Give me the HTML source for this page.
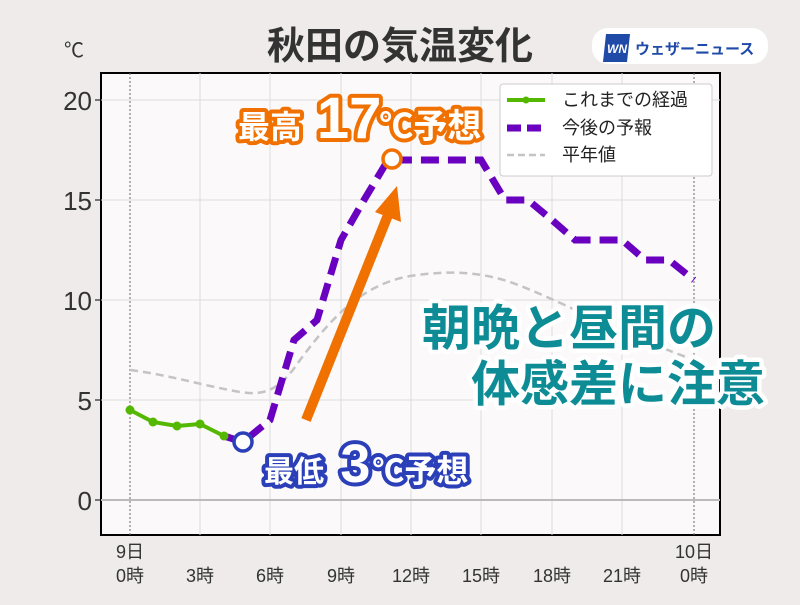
<!DOCTYPE html><html><head><meta charset="utf-8"><style>body{margin:0;width:800px;height:600px;background:#eeebea;overflow:hidden;font-family:"Liberation Sans","Noto Sans CJK JP",sans-serif}</style></head><body>
<svg width="800" height="600" xmlns="http://www.w3.org/2000/svg" font-family="Liberation Sans, Noto Sans CJK JP, sans-serif">
<rect width="800" height="600" fill="#eeebea"/>
<text x="400" y="59" text-anchor="middle" font-size="38" font-weight="bold" fill="#333">秋田の気温変化</text>
<text x="64" y="57" font-size="20" fill="#333">℃</text>
<rect x="592" y="28" width="176" height="36" rx="16" fill="#fff"/>
<polygon points="606,34 630,34 627,62 603,62" fill="#1f4aa8"/>
<text x="607" y="53" font-size="12" font-weight="bold" fill="#fff" font-style="italic">WN</text>
<text x="635" y="54" font-size="15" font-weight="bold" fill="#1f4aa8">ウェザーニュース</text>
<rect x="101" y="73" width="619" height="462" fill="#fbf9fa" stroke="#000" stroke-width="2"/>
<g stroke="#ddd" stroke-width="1">
<line x1="200" y1="73" x2="200" y2="535"/><line x1="270" y1="73" x2="270" y2="535"/><line x1="341" y1="73" x2="341" y2="535"/><line x1="411" y1="73" x2="411" y2="535"/><line x1="481" y1="73" x2="481" y2="535"/><line x1="552" y1="73" x2="552" y2="535"/><line x1="622" y1="73" x2="622" y2="535"/>
<line x1="101" y1="100" x2="720" y2="100"/><line x1="101" y1="200" x2="720" y2="200"/><line x1="101" y1="300" x2="720" y2="300"/><line x1="101" y1="400" x2="720" y2="400"/>
</g>
<line x1="101" y1="500" x2="720" y2="500" stroke="#bbb" stroke-width="2"/>
<line x1="130" y1="73" x2="130" y2="535" stroke="#666" stroke-dasharray="2,2"/>
<line x1="694" y1="73" x2="694" y2="535" stroke="#666" stroke-dasharray="2,2"/>
<g font-size="26" fill="#333" text-anchor="end"><text x="92" y="110">20</text><text x="92" y="210">15</text><text x="92" y="310">10</text><text x="92" y="410">5</text><text x="92" y="510">0</text></g>
<g stroke="#000"><line x1="95" y1="100" x2="101" y2="100"/><line x1="95" y1="200" x2="101" y2="200"/><line x1="95" y1="300" x2="101" y2="300"/><line x1="95" y1="400" x2="101" y2="400"/><line x1="95" y1="500" x2="101" y2="500"/></g>
<g font-size="18" fill="#333" text-anchor="middle">
<text x="130" y="558">9日</text><text x="130" y="582">0時</text><text x="200" y="582">3時</text><text x="270" y="582">6時</text><text x="341" y="582">9時</text><text x="411" y="582">12時</text><text x="481" y="582">15時</text><text x="552" y="582">18時</text><text x="622" y="582">21時</text><text x="694" y="558">10日</text><text x="694" y="582">0時</text></g>
<path d="M130,370 C170,375 200,385 240,392 C265,396 280,390 300,360 C330,320 360,285 410,276 C450,270 480,272 510,282 C560,300 600,325 694,360" fill="none" stroke="#c4c4c4" stroke-width="2.5" stroke-dasharray="8,5"/>
<polyline points="224,436 243,442 270,420 294,340 317,320 341,240 364,200 388,160 481,160 505,200 528,200 552,220 575,240 622,240 645,260 669,260 694,280" fill="none" stroke="#6a00c0" stroke-width="7" stroke-dasharray="18,9"/>
<polyline points="130,410 153,422 177,426 200,424 224,436" fill="none" stroke="#55b800" stroke-width="4"/>
<g fill="#55b800"><circle cx="130" cy="410" r="4.5"/><circle cx="153" cy="422" r="4.5"/><circle cx="177" cy="426" r="4.5"/><circle cx="200" cy="424" r="4.5"/><circle cx="224" cy="436" r="4.5"/></g>
<circle cx="243" cy="442" r="9" fill="#fff" stroke="#2a3fb8" stroke-width="3.5"/>
<circle cx="392" cy="159" r="9" fill="#fff" stroke="#f07000" stroke-width="3.5"/>
<line x1="306" y1="420" x2="388" y2="215" stroke="#f07000" stroke-width="10"/>
<polygon points="397,186 375,212 401,222" fill="#f07000"/>
<rect x="500" y="84" width="212" height="92" rx="3" fill="#fff" stroke="#ccc"/>
<line x1="507" y1="100" x2="545" y2="100" stroke="#55b800" stroke-width="4"/><circle cx="526" cy="100" r="3.5" fill="#55b800"/>
<line x1="507" y1="128" x2="545" y2="128" stroke="#6a00c0" stroke-width="7" stroke-dasharray="14,6"/>
<line x1="507" y1="155" x2="545" y2="155" stroke="#c4c4c4" stroke-width="2.5" stroke-dasharray="7,4"/>
<g font-size="18" fill="#222"><text x="562" y="106">これまでの経過</text><text x="562" y="134">今後の予報</text><text x="562" y="161">平年値</text></g>
<g font-weight="bold" paint-order="stroke" stroke-linejoin="round">
<text x="238" y="138" font-size="32" fill="#fff" stroke="#f07000" stroke-width="8">最高 <tspan font-size="58" dx="6">17</tspan><tspan font-size="34" dx="-2">℃予想</tspan></text>
<text x="264" y="482" font-size="30" fill="#fff" stroke="#2a3fb8" stroke-width="8">最低 <tspan font-size="54" dx="8">3</tspan><tspan font-size="32" dx="2">℃予想</tspan></text>
<text x="422" y="345" font-size="49" fill="#0e8c96" stroke="#fff" stroke-width="9">朝晩と昼間の</text>
<text x="471" y="401" font-size="49" fill="#0e8c96" stroke="#fff" stroke-width="9">体感差に注意</text>
</g>
</svg></body></html>
